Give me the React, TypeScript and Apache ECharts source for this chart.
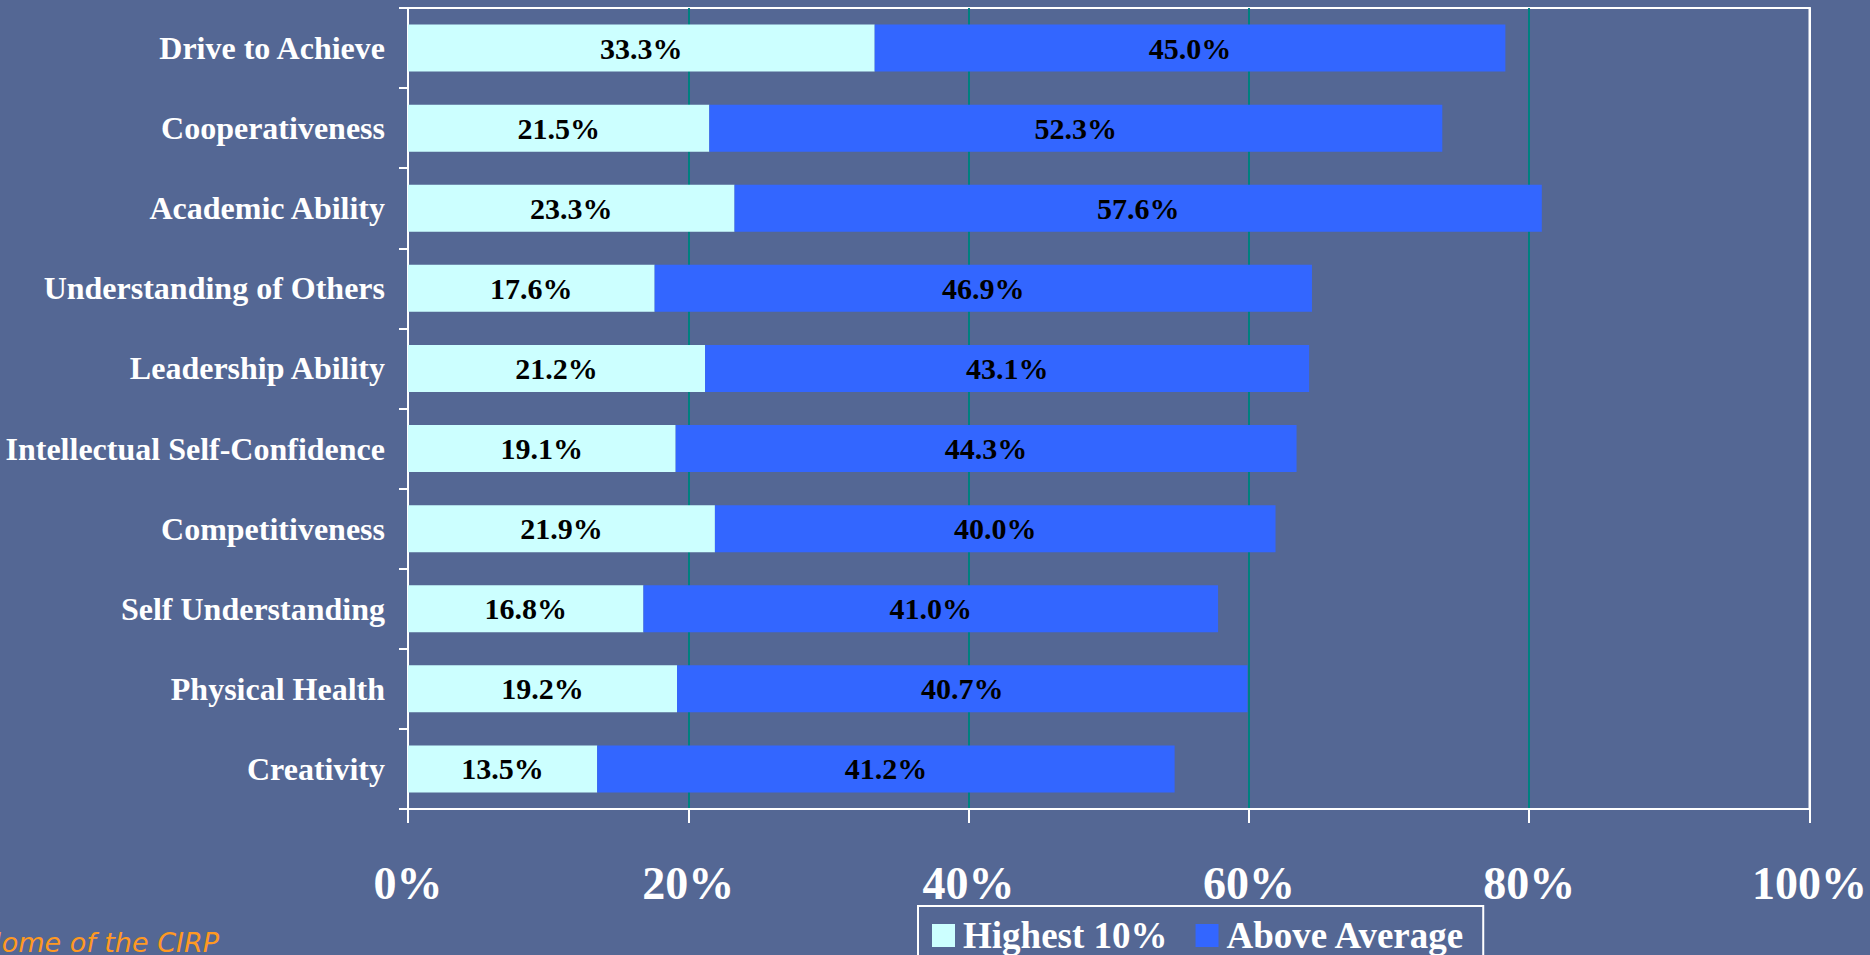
import React, { useEffect, useRef } from "react";
import * as echarts from "echarts";

const categories = [
  "Drive to Achieve",
  "Cooperativeness",
  "Academic Ability",
  "Understanding of Others",
  "Leadership Ability",
  "Intellectual Self-Confidence",
  "Competitiveness",
  "Self Understanding",
  "Physical Health",
  "Creativity",
];
const highest10 = [33.3, 21.5, 23.3, 17.6, 21.2, 19.1, 21.9, 16.8, 19.2, 13.5];
const aboveAverage = [45.0, 52.3, 57.6, 46.9, 43.1, 44.3, 40.0, 41.0, 40.7, 41.2];
const seriesNames = ["Highest 10%", "Above Average"];
const footerText = "Home of the CIRP";

const SERIF = "'Liberation Serif', 'DejaVu Serif', serif";

export default function App() {
  const ref = useRef<HTMLDivElement>(null);
  useEffect(() => {
    if (!ref.current) return;
    const chart = echarts.init(ref.current, undefined, { renderer: "svg" });
    const labelStyle = {
      show: true,
      position: "inside",
      color: "#000",
      fontFamily: SERIF,
      fontWeight: "bold",
      fontSize: 30,
      formatter: (p: any) => Number(p.value).toFixed(1) + "%",
    };
    chart.setOption({
      animation: false,
      backgroundColor: "#546794",
      grid: {
        left: 408,
        right: 58,
        top: 8,
        bottom: 146,
        show: true,
        borderColor: "#ffffff",
        borderWidth: 2,
        backgroundColor: "transparent",
      },
      legend: {
        left: 918,
        top: 906,
        padding: [11, 18, 40, 14],
        borderColor: "#ffffff",
        borderWidth: 2,
        itemWidth: 23,
        itemHeight: 23,
        itemGap: 28,
        icon: "rect",
        textStyle: {
          color: "#ffffff",
          fontFamily: SERIF,
          fontWeight: "bold",
          fontSize: 37,
          padding: [0, 0, 0, 3],
        },
        data: seriesNames,
      },
      xAxis: {
        type: "value",
        min: 0,
        max: 100,
        interval: 20,
        axisLine: { show: true, lineStyle: { color: "#ffffff", width: 2 } },
        axisTick: { show: true, length: 14, lineStyle: { color: "#ffffff", width: 2 } },
        splitLine: { show: true, lineStyle: { color: "#008080", width: 2 } },
        axisLabel: {
          color: "#ffffff",
          fontFamily: SERIF,
          fontWeight: "bold",
          fontSize: 46,
          margin: 51,
          formatter: "{value}%",
        },
      },
      yAxis: [
        {
          type: "category",
          inverse: true,
          data: categories,
          axisLine: { show: true, lineStyle: { color: "#ffffff", width: 2 } },
          axisTick: { show: true, length: 9, lineStyle: { color: "#ffffff", width: 2 } },
          axisLabel: {
            color: "#ffffff",
            fontFamily: SERIF,
            fontWeight: "bold",
            fontSize: 32,
            margin: 23,
          },
        },
        {
          type: "category",
          position: "right",
          inverse: true,
          data: categories,
          axisLine: { show: true, lineStyle: { color: "#ffffff", width: 2 } },
          axisTick: { show: false },
          axisLabel: { show: false },
          splitLine: { show: false },
          z: 5,
        },
      ],
      series: [
        {
          name: seriesNames[0],
          type: "bar",
          stack: "total",
          data: highest10,
          barWidth: 47,
          itemStyle: { color: "#CCFFFF" },
          label: labelStyle,
        },
        {
          name: seriesNames[1],
          type: "bar",
          stack: "total",
          data: aboveAverage,
          barWidth: 47,
          itemStyle: { color: "#3366FF" },
          label: labelStyle,
        },
      ],
      graphic: [
        {
          type: "text",
          right: 1870 - 219,
          top: 929,
          style: {
            text: footerText,
            fill: "#FF9922",
            font: "italic 27px 'DejaVu Sans', sans-serif",
          },
        },
      ],
    });
    return () => chart.dispose();
  }, []);
  return (
    <div
      ref={ref}
      style={{ position: "fixed", left: 0, top: 0, width: 1870, height: 955 }}
    />
  );
}
